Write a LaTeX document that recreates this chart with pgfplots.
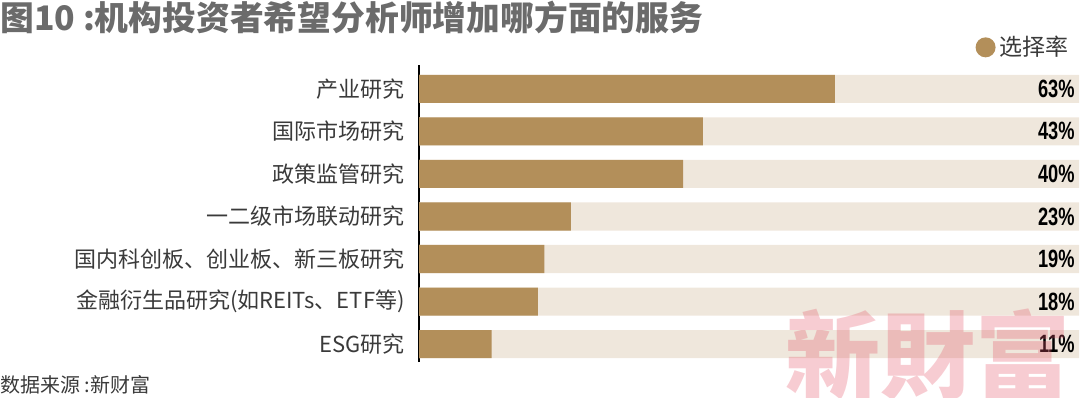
\documentclass[border=0pt]{standalone}
\usepackage{pgfplots}
\pgfplotsset{compat=1.18}
\usepackage{fontspec}
\setmainfont{Noto Sans CJK SC}
\newfontfamily\numfont{Liberation Sans}[FakeStretch=0.73]
\newfontfamily\wmfont{Noto Sans CJK TC}
\definecolor{gold}{HTML}{B38F5A}
\definecolor{bgbar}{HTML}{EFE7DC}
\definecolor{titlegray}{HTML}{6B6B6B}
\definecolor{textgray}{HTML}{3A3A3A}
\definecolor{wmpink}{RGB}{229,86,106}
\begin{document}
\begin{tikzpicture}
\useasboundingbox (0,0) rectangle (540pt,198.5pt);
\node[anchor=base west, inner sep=0pt, font=\bfseries\fontsize{16.9}{18}\selectfont, text=titlegray] at (0pt,183pt) {图10 :机构投资者希望分析师增加哪方面的服务};
\node[anchor=base west, inner sep=0pt, font=\fontsize{10}{12}\selectfont, text=textgray] at (0pt,2.5pt) {数据来源 :新财富};
\begin{axis}[
  at={(209.5pt,17.5pt)}, anchor=south west, scale only axis,
  width=330pt, height=148.5pt,
  xmin=0, xmax=100, ymin=-0.42, ymax=6.56,
  axis x line=none, axis y line*=left,
  y axis line style={-, line width=0.7pt, black},
  ytick={0,...,6},
  yticklabels={ESG研究, 金融衍生品研究(如REITs、ETF等), 国内科创板、创业板、新三板研究, 一二级市场联动研究, 政策监管研究, 国际市场研究, 产业研究},
  major tick length=0pt,
  yticklabel style={font=\fontsize{11}{13}\selectfont, text=textgray, inner sep=0pt, xshift=-7pt},
  xbar, bar width=0.66, bar shift=0pt,
  clip=false,
  legend style={at={(rel axis cs:1,1)}, anchor=south east, draw=none, fill=none, inner sep=0pt, xshift=-3pt, yshift=1pt, font=\fontsize{11.5}{13}\selectfont, text=textgray},
  legend image code/.code={\fill[gold] (5pt,0pt) circle (5pt);},
]
\addplot[fill=bgbar, draw=none, forget plot,
  nodes near coords, point meta=explicit symbolic,
  every node near coord/.append style={anchor=east, xshift=-2pt, inner sep=0pt, font=\numfont\bfseries\fontsize{12.5}{12.5}\selectfont, text=black}]
  coordinates {(100,6)[63\%] (100,5)[43\%] (100,4)[40\%] (100,3)[23\%] (100,2)[19\%] (100,1)[18\%] (100,0)[11\%]};
\addplot[fill=gold, draw=none] coordinates {(63,6) (43,5) (40,4) (23,3) (19,2) (18,1) (11,0)};
\addlegendentry{选择率}
\end{axis}
\node[anchor=base west, inner sep=0pt, font=\wmfont\bfseries\fontsize{47.5}{48}\selectfont, text=wmpink, opacity=0.3] at (392.5pt,3pt) {新財富};
\end{tikzpicture}
\end{document}
